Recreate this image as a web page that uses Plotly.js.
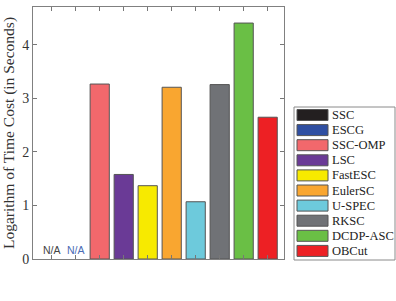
<!DOCTYPE html>
<html><head><meta charset="utf-8">
<script src="https://cdn.plot.ly/plotly-3.0.1.min.js"></script>
<style>html,body{margin:0;padding:0;background:#fff}#c{width:396px;height:301px}</style>
</head><body><div id="c"></div>
<script>
const methods = ["SSC","ESCG","SSC-OMP","LSC","FastESC","EulerSC","U-SPEC","RKSC","DCDP-ASC","OBCut"];
const values = [null,null,3.27,1.58,1.37,3.21,1.07,3.26,4.41,2.65];
const colors = ["#231f20","#2f4fa2","#f2686c","#6a3a96","#f7ea00","#f9a630","#6dcadc","#707276","#6abf45","#ed2024"];
const naLabels = ["N/A","N/A"];
const naColors = ["#444444","#4a6bb5"];

const L=33, R=284, T=7, B=259;
const W=396, H=301;
const px = x => (x-L)/(R-L);
const py = y => (B-y)/(B-T);

const traces = methods.map((m,i)=>({
  type:'bar', x:[i+1], y:[values[i]], name:m,
  width:0.8, marker:{color:colors[i], line:{color:'#555555', width:1}},
  showlegend:false, hoverinfo:'skip'
}));

const shapes=[], annotations=[];
shapes.push({type:'rect', xref:'paper', yref:'paper', x0:px(294), x1:px(395), y0:py(260), y1:py(107),
  line:{color:'#8a8a8a', width:1}, fillcolor:'#ffffff'});
methods.forEach((m,i)=>{
  const cy = 115 + i*15.1;
  shapes.push({type:'rect', xref:'paper', yref:'paper', x0:px(297), x1:px(328), y0:py(cy+5.5), y1:py(cy-5.5),
    line:{color:'#555555', width:1}, fillcolor:colors[i]});
  annotations.push({xref:'paper', yref:'paper', x:px(330), y:py(cy), xanchor:'left', yanchor:'middle',
    text:m, showarrow:false, font:{family:'Liberation Serif', size:12.5, color:'#222222'}});
});
naLabels.forEach((t,i)=>{
  annotations.push({x:i+1, y:0, xref:'x', yref:'y', text:t, showarrow:false, yanchor:'bottom', yshift:1,
    font:{family:'Liberation Sans', size:10.5, color:naColors[i]}});
});

const layout = {
  width:W, height:H, margin:{l:L, r:W-R, t:T, b:H-B},
  paper_bgcolor:'#fff', plot_bgcolor:'#fff',
  xaxis:{range:[0.22,10.68], tickvals:[1,2,3,4,5,6,7,8,9,10], showticklabels:false, ticks:'inside', ticklen:4,
    tickcolor:'#777', showline:true, linecolor:'#808080', linewidth:1, mirror:'ticks', showgrid:false, zeroline:false},
  yaxis:{range:[0,4.71], tickvals:[0,1,2,3,4], ticks:'inside', ticklen:4, tickcolor:'#777',
    showline:true, linecolor:'#808080', linewidth:1, mirror:'ticks', showgrid:false, zeroline:false,
    tickfont:{family:'Liberation Serif', size:14, color:'#333'},
    title:{text:'Logarithm of Time Cost (in Seconds)', font:{family:'Liberation Serif', size:15.5, color:'#333'}, standoff:5}},
  shapes, annotations, showlegend:false
};
Plotly.newPlot('c', traces, layout, {staticPlot:true, displayModeBar:false});
</script></body></html>
